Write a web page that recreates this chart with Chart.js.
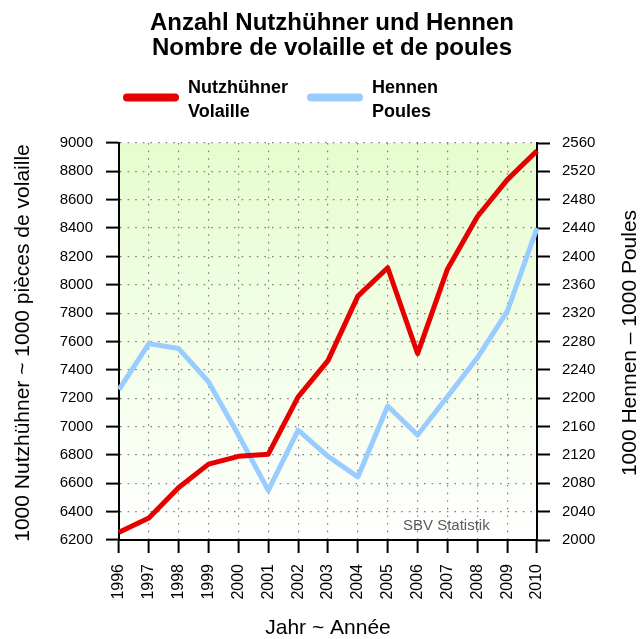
<!DOCTYPE html>
<html>
<head>
<meta charset="utf-8">
<script src="https://cdn.jsdelivr.net/npm/chart.js@4/dist/chart.umd.min.js"></script>
<style>
  html, body { margin: 0; padding: 0; background: #ffffff; }
  #wrap { width: 641px; height: 639px; }
</style>
</head>
<body>
<div id="wrap"><canvas id="c" width="641" height="639"></canvas></div>
<script>
// ---- data ----
const years = ['1996','1997','1998','1999','2000','2001','2002','2003','2004','2005','2006','2007','2008','2009','2010'];
const nutzhuehner = [6255, 6355, 6570, 6735, 6790, 6805, 7210, 7465, 7920, 8120, 7515, 8110, 8480, 8740, 8945];
const hennen = [2212, 2277, 2270, 2223, 2148, 2070, 2155, 2118, 2089, 2189, 2148, 2202, 2257, 2322, 2440];
const titleLines = ['Anzahl Nutzhühner und Hennen', 'Nombre de volaille et de poules'];
const legendNutz = ['Nutzhühner', 'Volaille'];
const legendHennen = ['Hennen', 'Poules'];
const leftTitle = '1000 Nutzhühner ~ 1000 pièces de volaille';
const rightTitle = '1000 Hennen – 1000 Poules';
const xTitle = 'Jahr ~ Année';
const sourceText = 'SBV Statistik';
const leftRange = [6200, 9000, 200];
const rightRange = [2000, 2560, 40];

const RED = '#e60000';
const BLUE = '#99ccff';
const FONT = '"Liberation Sans", Arial, Helvetica, sans-serif';

const decor = {
  id: 'decor',
  beforeDraw(chart) {
    const {ctx, chartArea: a} = chart;
    ctx.save();
    const g = ctx.createLinearGradient(0, a.top, 0, a.bottom);
    g.addColorStop(0, '#e6fcce');
    g.addColorStop(1, '#ffffff');
    ctx.fillStyle = g;
    ctx.fillRect(a.left, a.top, a.right - a.left, a.bottom - a.top);
    ctx.restore();
  },
  afterDatasetsDraw(chart) {
    const {ctx} = chart;
    ctx.save();
    ctx.fillStyle = '#5a5a5a';
    ctx.font = '15px ' + FONT;
    ctx.textAlign = 'left';
    ctx.textBaseline = 'alphabetic';
    ctx.fillText(sourceText, 403, 530);
    ctx.restore();
  },
  afterDraw(chart) {
    const {ctx} = chart;
    ctx.save();
    ctx.fillStyle = '#000';
    // title
    ctx.font = 'bold 24px ' + FONT;
    ctx.textAlign = 'center';
    ctx.textBaseline = 'alphabetic';
    ctx.fillText(titleLines[0], 332, 30);
    ctx.fillText(titleLines[1], 332, 55);
    // legend
    ctx.lineCap = 'round';
    ctx.lineWidth = 8;
    ctx.strokeStyle = RED;
    ctx.beginPath(); ctx.moveTo(127, 97.5); ctx.lineTo(175, 97.5); ctx.stroke();
    ctx.strokeStyle = BLUE;
    ctx.beginPath(); ctx.moveTo(311, 97.5); ctx.lineTo(359, 97.5); ctx.stroke();
    ctx.font = 'bold 18px ' + FONT;
    ctx.textAlign = 'left';
    ctx.fillText(legendNutz[0], 188, 93);
    ctx.fillText(legendNutz[1], 188, 117);
    ctx.fillText(legendHennen[0], 372, 93);
    ctx.fillText(legendHennen[1], 372, 117);
    // axis titles
    ctx.font = '21px ' + FONT;
    ctx.textAlign = 'center';
    ctx.textBaseline = 'middle';
    ctx.fillText(xTitle, 328, 628);
    ctx.save();
    ctx.translate(23, 343);
    ctx.rotate(-Math.PI / 2);
    ctx.fillText(leftTitle, 0, 0);
    ctx.restore();
    ctx.save();
    ctx.translate(630, 343);
    ctx.rotate(-Math.PI / 2);
    ctx.fillText(rightTitle, 0, 0);
    ctx.restore();
    ctx.restore();
  }
};

const gridOpts = {
  display: true,
  color: '#808080',
  lineWidth: 1.2,
  drawTicks: true,
  tickLength: 13,
  tickColor: '#000',
  tickWidth: 2
};
const borderOpts = { display: true, color: '#000', width: 2, dash: [1.6, 6] };

new Chart(document.getElementById('c'), {
  type: 'line',
  data: {
    labels: years,
    datasets: [
      { label: 'Nutzhühner', data: nutzhuehner, yAxisID: 'y', borderColor: RED, backgroundColor: RED,
        borderWidth: 5, pointRadius: 0, tension: 0, borderJoinStyle: 'round', fill: false },
      { label: 'Hennen', data: hennen, yAxisID: 'y1', borderColor: BLUE, backgroundColor: BLUE,
        borderWidth: 5, pointRadius: 0, tension: 0, borderJoinStyle: 'round', fill: false }
    ]
  },
  options: {
    responsive: false,
    animation: false,
    devicePixelRatio: 1,
    layout: { padding: { top: 143, left: 0, right: 0, bottom: 0 } },
    plugins: { legend: { display: false }, title: { display: false }, tooltip: { enabled: false } },
    scales: {
      x: {
        type: 'category',
        offset: false,
        grid: gridOpts,
        border: borderOpts,
        ticks: { color: '#000', font: { size: 16, family: FONT }, minRotation: 90, maxRotation: 90, padding: 11, autoSkip: false },
        afterFit(s) { s.height = 99; }
      },
      y: {
        position: 'left',
        min: leftRange[0], max: leftRange[1],
        grid: gridOpts,
        border: borderOpts,
        ticks: { stepSize: leftRange[2], color: '#000', font: { size: 15, family: FONT }, padding: 13,
          callback: v => String(v) },
        afterFit(s) { s.width = 119; }
      },
      y1: {
        position: 'right',
        min: rightRange[0], max: rightRange[1],
        grid: { display: true, drawOnChartArea: false, drawTicks: true, tickLength: 13, tickColor: '#000', tickWidth: 2, color: 'rgba(0,0,0,0)' },
        border: { display: true, color: '#000', width: 2 },
        ticks: { stepSize: rightRange[2], color: '#000', font: { size: 15, family: FONT }, padding: 12,
          callback: v => String(v) },
        afterFit(s) { s.width = 104; }
      }
    }
  },
  plugins: [decor]
});
</script>
</body>
</html>
